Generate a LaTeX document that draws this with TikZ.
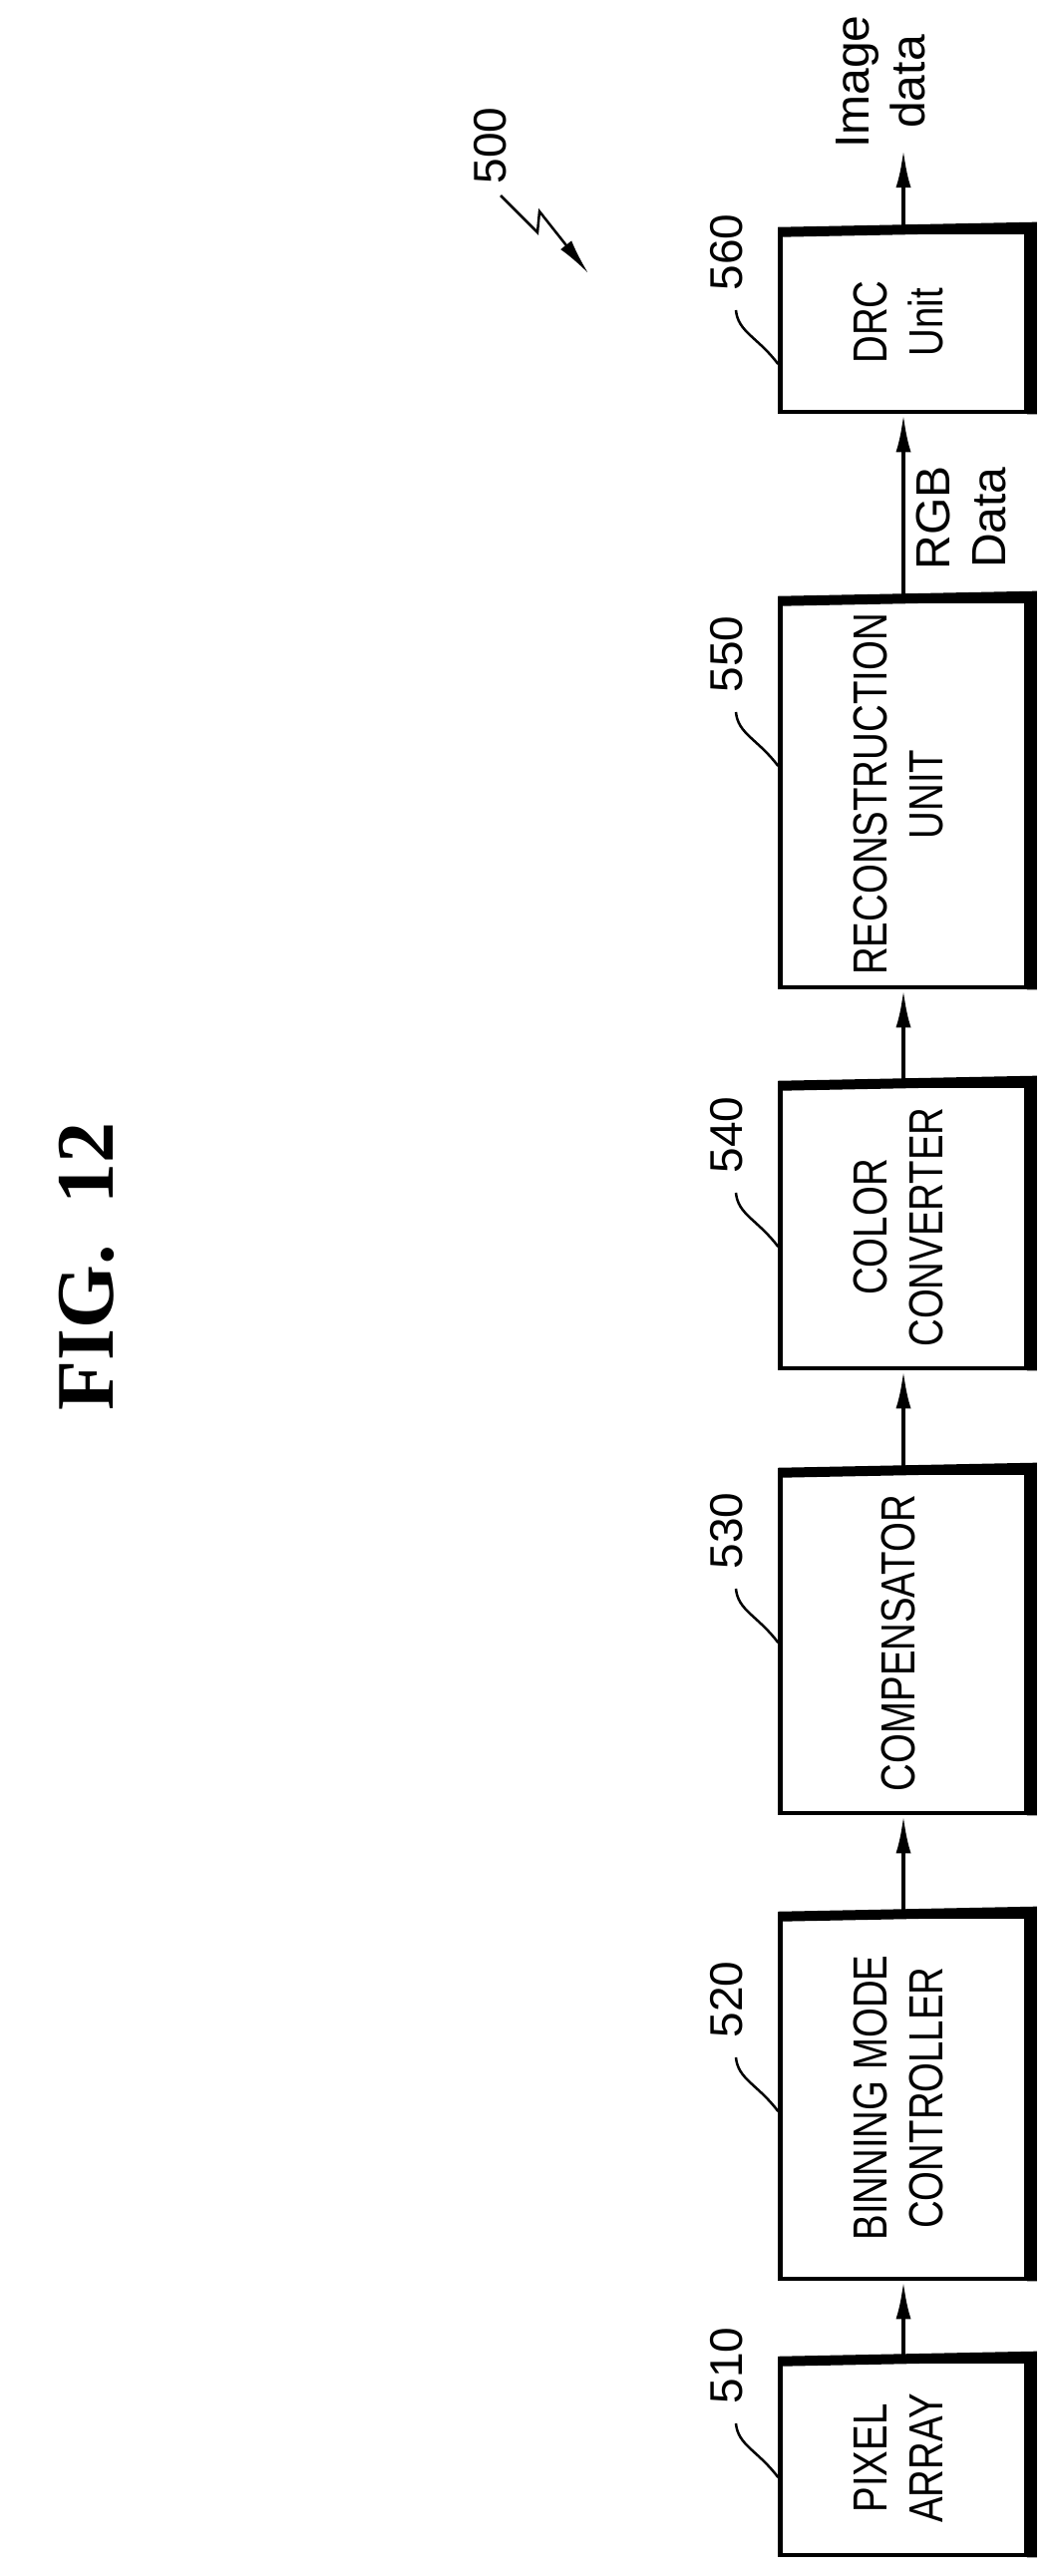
\documentclass[tikz,border=0pt]{standalone}
\usepackage{fontspec}
\setmainfont{Liberation Sans}
\newfontfamily\narrowfont[FakeStretch=0.8]{Liberation Sans}
\newfontfamily\figfont{Liberation Serif}
\usetikzlibrary{arrows.meta}

\tikzset{
  block/.style={draw, line width=4.5pt, minimum width=247pt, inner sep=0pt,
    font=\narrowfont\fontsize{48}{56}\selectfont},
  flow/.style={line width=4pt, -{Latex[length=38pt,width=15pt]}},
  refnum/.style={font=\fontsize{46}{54}\selectfont, rotate=90},
  leader/.style={line width=2.5pt},
}

\newcommand{\vtext}[1]{\rotatebox{90}{\begin{tabular}{@{}c@{}}#1\end{tabular}}}

\begin{document}
\begin{tikzpicture}[x=1pt, y=-1pt]
    \useasboundingbox (0,0) rectangle (1057,2583);

    \node[font=\figfont\bfseries\fontsize{82}{90}\selectfont, rotate=90] (fig) at (87,1270) {FIG.\ \ 12};

    \node[block, minimum height=180pt] (drc)   at (906,323)    {\vtext{DRC\\Unit}};
    \node[block, minimum height=387pt] (recon) at (906,796.5)  {\vtext{RECONSTRUCTION\\UNIT}};
    \node[block, minimum height=283pt] (color) at (906,1230.5) {\vtext{COLOR\\CONVERTER}};
    \node[block, minimum height=341pt] (comp)  at (906,1647.5) {\vtext{COMPENSATOR}};
    \node[block, minimum height=363pt] (bin)   at (906,2103.5) {\vtext{BINNING MODE\\CONTROLLER}};
    \node[block, minimum height=194pt] (pix)   at (906,2465)   {\vtext{PIXEL\\ARRAY}};

    % heavy top and right edges
    \foreach \b in {drc,recon,color,comp,bin,pix}
        \draw[line width=10pt] ([yshift=-2pt]\b.north west) -- ([xshift=3pt,yshift=3pt]\b.north east)
            -- ([xshift=3pt]\b.south east);

    \coordinate (out) at (906,150);
    \node[font=\fontsize{48}{56}\selectfont, rotate=90] (img) at (888,82)
        {\begin{tabular}{@{}c@{}}Image\\data\end{tabular}};
    \node[font=\fontsize{48}{56}\selectfont, rotate=90] (rgb) at (969,519)
        {\begin{tabular}{@{}c@{}}RGB\\Data\end{tabular}};

    \draw[flow] (pix) -- (bin);
    \draw[flow] (bin) -- (comp);
    \draw[flow] (comp) -- (color);
    \draw[flow] (color) -- (recon);
    \draw[flow] (recon) -- (drc);
    \draw[flow] (drc) -- (out);

    % reference numerals
    \foreach \b/\n/\c in {drc/560/253, recon/550/656, color/540/1138, comp/530/1535, bin/520/2005, pix/510/2372} {
        \node[refnum] (n\n) at (729,\c) {\n};
        \coordinate (e\n) at (\b.west |- 0,\c+112);
        \draw[leader] (738,\c+58) .. controls (740,\c+80) and (760,\c+85) .. (e\n);
    }

    \node[refnum] (n500) at (492,146) {500};
    \coordinate (t500) at (590,274);
    \draw[leader, -{Latex[length=36pt,width=14pt]}] (502,196) -- (539,233) -- (541,212) -- (t500);

\end{tikzpicture}
\end{document}
